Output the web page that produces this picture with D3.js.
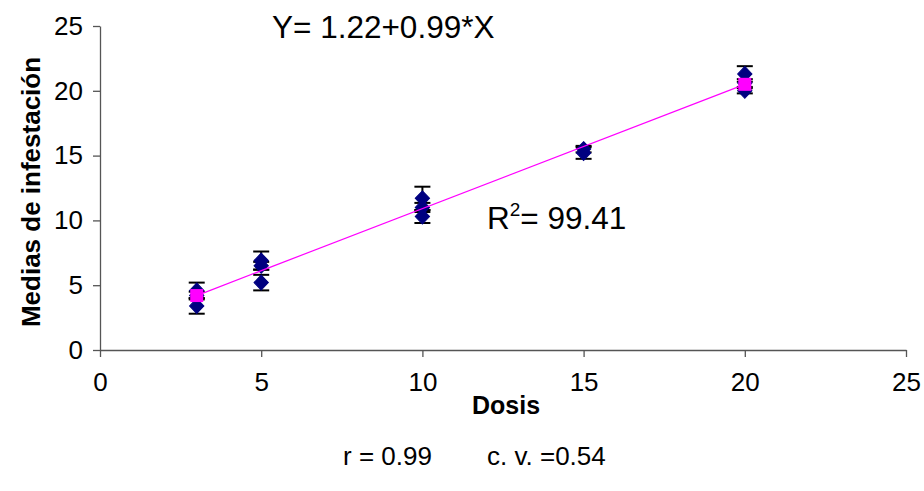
<!DOCTYPE html>
<html>
<head>
<meta charset="utf-8">
<script src="https://cdn.jsdelivr.net/npm/d3@7"></script>
<style>
  html, body { margin: 0; padding: 0; background: #fff; }
  svg { display: block; font-family: "Liberation Sans", Arial, sans-serif; }
</style>
</head>
<body>
<svg id="chart" width="924" height="491"></svg>
<script>
// Replicate means (diamonds) with their error bars
const repDose  = [3, 3, 3, 5, 5, 5, 10, 10, 10, 15, 15, 20, 20, 20];
const repValue = [4.6, 4.2, 3.4, 6.9, 6.5, 5.2, 11.7, 11.0, 10.3, 15.5, 15.2, 21.3, 20.6, 20.0];
const repError = [0.6, 0.3, 0.6, 0.7, 0.3, 0.6, 0.9, 0.35, 0.5, 0.25, 0.45, 0.6, 0.3, 0.2];

// Fitted line series (magenta, square markers at its ends)
const fitDose  = [3, 20];
const fitValue = [4.2, 20.5];

const xTicks = [0, 5, 10, 15, 20, 25];
const yTicks = [0, 5, 10, 15, 20, 25];

const equationText = 'Y= 1.22+0.99*X';
const r2Value = '99.41';
const footerR = 'r = 0.99';
const footerCV = 'c. v. =0.54';

const svg = d3.select('#chart');
const plot = { left: 100, right: 906, top: 26, bottom: 350 };

const x = d3.scaleLinear().domain([0, 25]).range([plot.left, plot.right]);
const y = d3.scaleLinear().domain([0, 25]).range([plot.bottom, plot.top]);

// Axes
const xAxis = svg.append('g')
  .attr('transform', `translate(0,${plot.bottom})`)
  .call(d3.axisBottom(x).tickValues(xTicks).tickSize(7).tickPadding(16).tickSizeOuter(0));
const yAxis = svg.append('g')
  .attr('transform', `translate(${plot.left},0)`)
  .call(d3.axisLeft(y).tickValues(yTicks).tickSize(7).tickPadding(10).tickSizeOuter(0));

[xAxis, yAxis].forEach((a) => {
  a.select('.domain').attr('stroke', '#555').attr('stroke-width', 1.3);
  a.selectAll('.tick line').attr('stroke', '#555').attr('stroke-width', 1.3);
  a.selectAll('.tick text')
    .attr('fill', '#000')
    .style('font-size', '26px')
    .style('font-family', '"Liberation Sans", Arial, sans-serif');
});

// Axis titles
svg.append('text')
  .attr('x', 506).attr('y', 414)
  .attr('text-anchor', 'middle')
  .style('font-size', '25px').style('font-weight', 'bold')
  .text('Dosis');

svg.append('text')
  .attr('transform', 'translate(40,192) rotate(-90)')
  .attr('text-anchor', 'middle')
  .style('font-size', '26px').style('font-weight', 'bold')
  .text('Medias de infestación');

// Error bars
const capHalf = 8;
const err = svg.append('g').attr('stroke', '#000').attr('stroke-width', 2);
repDose.forEach((d, i) => {
  const cx = x(d);
  const hi = y(repValue[i] + repError[i]);
  const lo = y(repValue[i] - repError[i]);
  err.append('line').attr('x1', cx).attr('x2', cx).attr('y1', hi).attr('y2', lo);
  err.append('line').attr('x1', cx - capHalf).attr('x2', cx + capHalf).attr('y1', hi).attr('y2', hi);
  err.append('line').attr('x1', cx - capHalf).attr('x2', cx + capHalf).attr('y1', lo).attr('y2', lo);
});

// Diamonds
const diamond = d3.symbol().type(d3.symbolDiamond2).size(130);
svg.append('g').selectAll('path')
  .data(repDose)
  .join('path')
  .attr('d', diamond)
  .attr('transform', (d, i) => `translate(${x(d)},${y(repValue[i])}) scale(1,1.05)`)
  .attr('fill', '#000080')
  .attr('stroke', '#000080')
  .attr('stroke-width', 1);

// Fitted line with square markers
const fitData = fitDose.map((d, i) => [d, fitValue[i]]);
svg.append('path')
  .datum(fitData)
  .attr('fill', 'none')
  .attr('stroke', '#FF00FF')
  .attr('stroke-width', 1.2)
  .attr('d', d3.line().x((p) => x(p[0])).y((p) => y(p[1])));

svg.append('g').selectAll('rect')
  .data(fitData)
  .join('rect')
  .attr('x', (p) => x(p[0]) - 6.5)
  .attr('y', (p) => y(p[1]) - 6.5)
  .attr('width', 13)
  .attr('height', 13)
  .attr('fill', '#FF00FF');

// Annotations
svg.append('text')
  .attr('x', 272).attr('y', 38)
  .style('font-size', '31.5px')
  .text(equationText);

const r2 = svg.append('text')
  .attr('x', 487).attr('y', 229)
  .style('font-size', '31.5px');
r2.append('tspan').text('R');
r2.append('tspan').attr('dy', -13).style('font-size', '19px').text('2');
r2.append('tspan').attr('dy', 13).text('= ' + r2Value);

svg.append('text')
  .attr('x', 343).attr('y', 465)
  .style('font-size', '26px')
  .text(footerR);
svg.append('text')
  .attr('x', 487).attr('y', 465)
  .style('font-size', '26px')
  .text(footerCV);
</script>
</body>
</html>
